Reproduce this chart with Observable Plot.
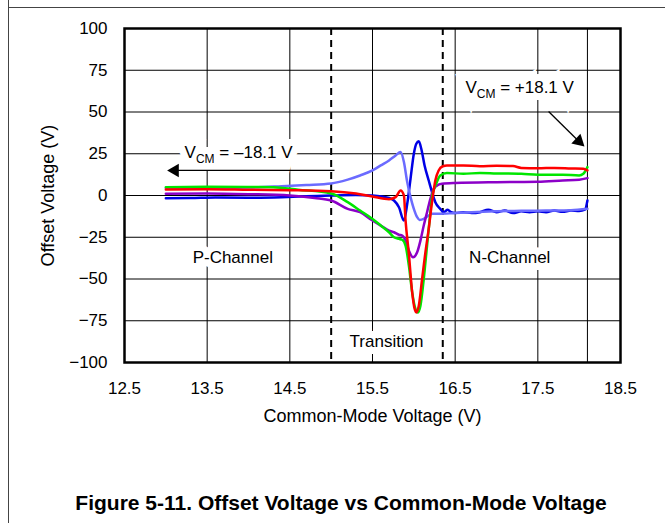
<!DOCTYPE html>
<html>
<head>
<meta charset="utf-8">
<script src="https://cdn.jsdelivr.net/npm/d3@7"></script>
<script src="https://cdn.jsdelivr.net/npm/@observablehq/plot@0.6"></script>
<style>
  html, body { margin: 0; padding: 0; background: #fff; }
  #wrap { position: relative; width: 665px; height: 523px; overflow: hidden; font-family: "Liberation Sans", Arial, sans-serif; }
  #chart { position: absolute; left: 0; top: 0; }
  .vline { position: absolute; left: 8px; top: 0; width: 1px; height: 523px; background: #444; }
  .hline { position: absolute; left: 8px; top: 7px; width: 660px; height: 1px; background: #444; }
  #caption { position: absolute; left: 0; width: 682px; top: 491px; text-align: center; font-weight: bold; font-size: 21px; line-height: 24px; color: #000; }
</style>
</head>
<body>
<div id="wrap">
  <div id="chart"></div>
  <div class="vline"></div>
  <div class="hline"></div>
  <div id="caption">Figure 5-11. Offset Voltage vs Common-Mode Voltage</div>
</div>
<script>
// ---- ticks / grid ----
const xTicks = [12.5, 13.5, 14.5, 15.5, 16.5, 17.5, 18.5];
const xExtraGrid = [18.1];
const yTicks = [-100, -75, -50, -25, 0, 25, 50, 75, 100];
const transitionBounds = [15.0, 16.35];

// ---- series ----
const seriesNames = ["Unit A", "Unit B", "Unit C", "Unit D", "Unit E"];
const seriesColors = ["#0000e6", "#6b6bff", "#8c00c8", "#00e600", "#ff0000"];

const seriesAX = [13.0, 13.3, 13.6, 14.0, 14.4, 14.7, 15.0, 15.3, 15.5, 15.7, 15.76, 15.82, 15.88, 15.92, 15.96, 16.0, 16.03, 16.06, 16.09, 16.13, 16.18, 16.22, 16.26, 16.32, 16.36, 16.41, 16.45, 16.5, 16.6, 16.7, 16.8, 16.9, 17.0, 17.1, 17.2, 17.3, 17.4, 17.5, 17.6, 17.7, 17.8, 17.9, 18.0, 18.07, 18.1];
const seriesAY = [-1.6, -1.5, -1.2, -1.3, -1.0, -0.5, 0.0, 0.3, 0.0, -1.5, -3, -7, -15, -5, 10, 25, 31, 32.5, 28, 18, 9, 2, -4, -8, -10, -8.6, -10, -10.5, -10, -10.5, -10, -8.5, -10, -9, -10.5, -9.5, -10, -9.5, -10, -9, -9.8, -9, -9.3, -8.5, -3];

const seriesBX = [13.0, 13.5, 14.0, 14.4, 14.7, 15.0, 15.2, 15.35, 15.5, 15.6, 15.7, 15.78, 15.84, 15.88, 15.92, 15.96, 16.0, 16.04, 16.07, 16.12, 16.18, 16.22, 16.3, 16.5, 16.7, 17.0, 17.3, 17.6, 17.9, 18.1];
const seriesBY = [4.5, 4.5, 4.8, 5.6, 6.3, 7.2, 9.5, 12, 15, 18, 21, 24, 26, 20, 8, -1, -8, -13, -14.6, -14, -12, -11, -11, -10.5, -10, -9.5, -9.2, -9, -8.8, -8];

const seriesCX = [13.0, 13.5, 14.0, 14.5, 14.8, 15.0, 15.2, 15.35, 15.5, 15.6, 15.7, 15.76, 15.82, 15.86, 15.9, 15.94, 15.99, 16.04, 16.08, 16.12, 16.16, 16.2, 16.24, 16.3, 16.34, 16.5, 17.0, 17.5, 17.8, 18.0, 18.1];
const seriesCY = [1.0, 1.2, 0.8, 0.0, -1.5, -3, -8, -10, -15, -18, -21, -22, -23.5, -24, -27, -33, -37, -34, -27, -18, -10, -2, 4, 6.5, 7, 7.5, 8, 8.2, 9, 9.5, 10.4];

const seriesDX = [13.0, 13.5, 14.0, 14.3, 14.6, 15.0, 15.2, 15.35, 15.5, 15.6, 15.7, 15.76, 15.82, 15.86, 15.9, 15.94, 15.98, 16.02, 16.05, 16.08, 16.12, 16.16, 16.2, 16.22, 16.27, 16.32, 16.4, 16.6, 16.8, 17.0, 17.3, 17.5, 17.8, 18.0, 18.05, 18.1];
const seriesDY = [5.0, 5.2, 5.1, 5.0, 3.5, 1.2, -4, -9, -14, -18, -22, -25, -26, -26.5, -30, -42, -58, -68, -70, -66, -50, -30, -10, -1, 7, 12, 13.5, 13, 13.5, 13.2, 13, 12.5, 12.5, 12, 13, 17];

const seriesEX = [13.0, 13.5, 14.0, 14.5, 15.0, 15.3, 15.5, 15.7, 15.78, 15.84, 15.88, 15.9, 15.94, 15.98, 16.01, 16.03, 16.06, 16.1, 16.14, 16.18, 16.22, 16.26, 16.3, 16.35, 16.4, 16.6, 16.8, 17.0, 17.2, 17.3, 17.5, 17.7, 17.9, 18.05, 18.1];
const seriesEY = [3.6, 3.8, 3.5, 3.2, 2.6, 1.2, -0.6, -2.2, -1, 3, 0, -15, -35, -58, -68, -70, -66, -50, -34, -20, -4, 9, 15, 17.5, 18, 18, 17.5, 17.8, 17.6, 16.5, 16.3, 16.5, 16.2, 16, 15];

const seriesXs = [seriesAX, seriesBX, seriesCX, seriesDX, seriesEX];
const seriesYs = [seriesAY, seriesBY, seriesCY, seriesDY, seriesEY];
const data = seriesNames.flatMap((s, k) => seriesXs[k].map((x, i) => ({series: s, x, y: seriesYs[k][i]})));

// ---- annotations ----
const labels = [
  {text: "V_CM = –18.1 V", x: 13.88, y: 25.5},
  {text: "V_CM = +18.1 V", x: 17.28, y: 64.7},
  {text: "Transition", x: 15.67, y: -87.5},
  {text: "P-Channel", x: 13.81, y: -37},
  {text: "N-Channel", x: 17.16, y: -37}
];
const arrows = [
  {x1: 15.04, y1: 15, x2: 13.11, y2: 15, angle: -90},
  {x1: 17.63, y1: 50.3, x2: 17.995, y2: 32.5, angle: 132.6}
];

const chart = Plot.plot({
  width: 665,
  height: 440,
  marginLeft: 124,
  marginRight: 45,
  marginTop: 28,
  marginBottom: 78,
  x: {domain: [12.5, 18.5]},
  y: {domain: [-100, 100]},
  color: {domain: seriesNames, range: seriesColors},
  style: {fontFamily: "'Liberation Sans', Arial, sans-serif", fontSize: "17px", color: "black", background: "transparent", overflow: "visible"},
  marks: [
    Plot.ruleX(xTicks.concat(xExtraGrid), {stroke: "black", strokeWidth: 1, strokeOpacity: 1}),
    Plot.ruleY(yTicks, {stroke: "black", strokeWidth: 1, strokeOpacity: 1}),
    Plot.ruleX(transitionBounds, {stroke: "black", strokeWidth: 2, strokeDasharray: "7,5"}),
    // white halo behind boxed labels
    Plot.text(labels, {x: "x", y: "y", text: "text", fontSize: 17, fill: "white", stroke: "white", strokeWidth: 14, strokeLinejoin: "miter"}),
    Plot.text(labels, {x: "x", y: "y", text: "text", fontSize: 17, fill: "black"}),
    Plot.link(arrows, {x1: "x1", y1: "y1", x2: "x2", y2: "y2", stroke: "black", strokeWidth: 1.3}),
    Plot.dot(arrows, {x: "x2", y: "y2", symbol: "triangle", r: 5, fill: "black", stroke: null, rotate: "angle"}),
    Plot.line(data, {x: "x", y: "y", z: "series", stroke: "series", strokeWidth: 2.5, curve: "monotone-x"}),
    Plot.frame({stroke: "black", strokeWidth: 2.5}),
    Plot.axisX(xTicks, {tickSize: 0, tickPadding: 19, label: null, fontSize: 17, tickFormat: d => d.toFixed(1)}),
    Plot.axisY(yTicks, {tickSize: 0, tickPadding: 17, label: null, fontSize: 17, tickFormat: d => d < 0 ? "\u2212" + Math.abs(d) : String(d)}),
    Plot.text(["Common-Mode Voltage (V)"], {frameAnchor: "bottom", dy: 54, fontSize: 18, fill: "black", lineAnchor: "middle"}),
    Plot.text(["Offset Voltage (V)"], {frameAnchor: "left", dx: -76, rotate: -90, fontSize: 18, fill: "black", textAnchor: "middle", lineAnchor: "middle"})
  ]
});

// subscript "CM"
d3.select(chart).selectAll("text").filter(function() { return this.textContent.includes("_CM"); }).each(function() {
  const t = this.textContent;
  const parts = t.split("_CM");
  const sel = d3.select(this);
  sel.text(null);
  sel.append("tspan").text(parts[0]);
  sel.append("tspan").attr("font-size", 12).attr("dy", 5).text("CM");
  sel.append("tspan").attr("dy", -5).text(parts[1]);
});

document.getElementById("chart").appendChild(chart);
</script>
</body>
</html>
